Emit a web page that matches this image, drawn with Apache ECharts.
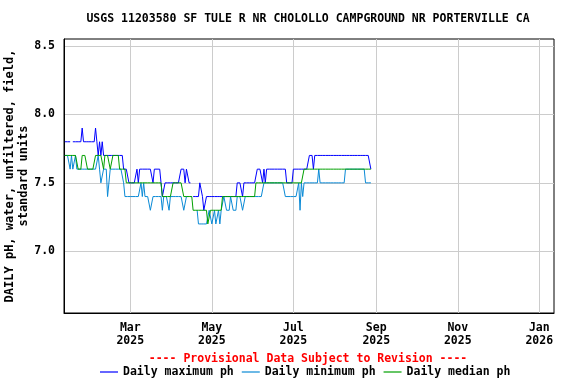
<!DOCTYPE html>
<html><head><meta charset="utf-8">
<script src="https://cdn.jsdelivr.net/npm/echarts@6/dist/echarts.min.js"></script>
<style>html,body{margin:0;padding:0;background:#fff}#c{width:576px;height:384px}</style>
</head><body><div id="c"></div>
<script>
// daily values, first day 2025-01-11
const startDate = Date.UTC(2025, 0, 11);
const maxPh = [
7.8,7.8,7.8,7.8,7.8,null,7.8,7.8,7.8,7.8,
7.8,7.8,7.8,7.9,7.8,7.8,7.8,7.8,7.8,7.8,
7.8,7.8,7.8,7.9,7.8,7.7,7.8,7.7,7.8,7.7,
7.7,7.7,7.7,7.7,7.7,7.7,7.7,7.7,7.7,7.7,
7.7,7.7,7.7,7.7,7.6,7.6,7.6,7.6,7.5,7.5,
7.5,7.5,7.5,7.5,7.6,7.5,7.6,7.6,7.6,7.6,
7.6,7.6,7.6,7.6,7.6,7.6,7.5,7.6,7.6,7.6,
7.6,7.6,7.5,7.4,7.4,7.5,7.5,7.5,7.5,7.5,
7.5,7.5,7.5,7.5,7.5,7.5,7.5,7.6,7.6,7.6,
7.5,7.6,7.6,7.5,7.5,null,7.4,7.4,7.4,7.4,
7.4,7.5,7.5,7.4,7.3,7.3,7.4,7.4,7.4,7.4,
7.4,7.4,7.4,7.4,7.4,7.4,7.4,7.4,7.4,7.4,
7.4,7.4,7.4,7.4,7.4,7.4,7.4,7.4,7.4,7.5,
7.5,7.5,7.5,7.4,7.5,7.5,7.5,7.5,7.5,7.5,
7.5,7.5,7.5,7.5,7.6,7.6,7.6,7.6,7.5,7.6,
7.5,7.6,7.6,7.6,7.6,7.6,7.6,7.6,7.6,7.6,
7.6,7.6,7.6,7.6,7.6,7.6,7.5,7.5,7.5,7.5,
7.5,7.6,7.6,7.6,7.6,7.6,7.6,7.6,7.6,7.6,
7.6,7.6,7.6,7.7,7.7,7.7,7.6,7.7,7.7,7.7,
7.7,7.7,7.7,7.7,7.7,7.7,7.7,7.7,7.7,7.7,
7.7,7.7,7.7,7.7,7.7,7.7,7.7,7.7,7.7,7.7,
7.7,7.7,7.7,7.7,7.7,7.7,7.7,7.7,7.7,7.7,
7.7,7.7,7.7,7.7,7.7,7.7,7.7,7.7,7.7,7.6
];
const minPh = [
7.7,7.7,7.7,7.7,7.6,7.7,7.6,7.6,7.7,7.6,
7.6,7.6,7.6,7.6,7.6,7.6,7.6,7.6,7.6,7.6,
7.6,7.6,7.6,7.6,7.6,7.7,7.6,7.5,7.5,7.6,
7.6,7.6,7.4,7.4,7.6,7.6,7.6,7.6,7.6,7.6,
7.6,7.6,7.6,7.6,7.5,7.4,7.4,7.4,7.4,7.4,
7.4,7.4,7.4,7.4,7.4,7.4,7.4,7.5,7.4,7.5,
7.4,7.4,7.4,7.4,7.3,7.3,7.4,7.4,7.4,7.4,
7.4,7.4,7.4,7.3,7.4,7.4,7.4,7.4,7.3,7.4,
7.4,7.4,7.4,7.4,7.4,7.4,7.4,7.4,7.4,7.3,
7.3,7.4,7.4,null,7.4,7.4,null,null,null,7.3,
7.2,7.2,7.2,7.2,7.2,7.2,7.2,7.2,7.3,7.3,
7.2,7.2,7.3,7.2,7.2,7.3,7.2,7.3,7.3,7.4,
7.4,7.3,7.3,7.3,7.4,7.4,7.3,7.3,7.3,7.4,
7.4,7.4,7.4,7.3,7.3,7.4,7.4,7.4,7.4,7.4,
7.4,7.4,7.4,7.4,7.4,7.4,7.4,7.4,7.4,7.5,
7.5,7.5,7.5,7.5,7.5,7.5,7.5,7.5,7.5,7.5,
7.5,7.5,7.5,7.5,7.5,7.4,7.4,7.4,7.4,7.4,
7.4,7.4,7.4,7.4,7.4,7.5,7.3,7.5,7.4,7.5,
7.5,7.5,7.5,7.5,7.5,7.5,7.5,7.5,7.5,7.5,
7.6,7.5,7.5,7.5,7.5,7.5,7.5,7.5,7.5,7.5,
7.5,7.5,7.5,7.5,7.5,7.5,7.5,7.5,7.5,7.5,
7.6,7.6,7.6,7.6,7.6,7.6,7.6,7.6,7.6,7.6,
7.6,7.6,7.6,7.6,7.6,7.5,7.5,7.5,7.5,7.5
];
const medPh = [
7.7,7.7,7.7,7.7,7.7,7.7,7.7,7.7,7.7,7.7,
7.6,7.6,7.6,7.7,7.7,7.7,7.7,7.6,7.6,7.6,
7.6,7.6,7.6,7.7,7.7,7.7,7.7,7.7,7.7,7.6,
7.7,7.7,7.7,7.7,7.6,7.6,7.7,7.7,7.7,7.7,
7.7,7.6,7.6,7.6,7.6,7.6,7.5,7.5,7.5,7.5,
7.5,7.5,7.5,7.5,7.5,7.5,7.5,7.5,7.5,7.5,
7.5,7.5,7.5,7.5,7.5,7.5,7.5,7.5,7.5,7.5,
7.5,7.5,7.5,7.4,7.4,7.4,7.4,7.4,7.4,7.4,
7.4,7.5,7.5,7.5,7.5,7.5,7.5,7.5,7.5,7.4,
7.4,7.4,7.4,7.4,7.4,7.4,7.3,7.3,7.3,7.3,
7.3,7.3,7.3,7.3,7.3,7.3,7.3,7.2,7.2,7.3,
7.3,7.3,7.3,7.3,7.3,7.3,7.3,7.3,7.4,7.4,
7.4,7.4,7.4,7.4,7.4,7.4,7.4,7.4,7.4,7.4,
7.4,7.4,7.4,7.4,7.4,7.4,7.4,7.4,7.4,7.4,
7.4,7.4,7.4,7.5,7.5,7.5,7.5,7.5,7.5,7.5,
7.5,7.5,7.5,7.5,7.5,7.5,7.5,7.5,7.5,7.5,
7.5,7.5,7.5,7.5,7.5,7.5,7.5,7.5,7.5,7.5,
7.5,7.5,7.5,7.5,7.5,7.5,7.5,7.5,7.5,7.6,
7.6,7.6,7.6,7.6,7.6,7.6,7.6,7.6,7.6,7.6,
7.6,7.6,7.6,7.6,7.6,7.6,7.6,7.6,7.6,7.6,
7.6,7.6,7.6,7.6,7.6,7.6,7.6,7.6,7.6,7.6,
7.6,7.6,7.6,7.6,7.6,7.6,7.6,7.6,7.6,7.6,
7.6,7.6,7.6,7.6,7.6,7.6,7.6,7.6,7.6,7.6
];
const xTickValues = [Date.UTC(2025,2,1), Date.UTC(2025,4,1), Date.UTC(2025,6,1), Date.UTC(2025,8,1), Date.UTC(2025,10,1), Date.UTC(2026,0,1)];
const xTickLabels = ['Mar\n2025','May\n2025','Jul\n2025','Sep\n2025','Nov\n2025','Jan\n2026'];
const yTickValues = [7.0, 7.5, 8.0, 8.5];
const yTickLabels = ['7.0', '7.5', '8.0', '8.5'];
const seriesNames = ['Daily maximum ph', 'Daily minimum ph', 'Daily median ph'];
const titleText = 'USGS 11203580 SF TULE R NR CHOLOLLO CAMPGROUND NR PORTERVILLE CA';
const provisionalText = '---- Provisional Data Subject to Revision ----';
const yName = 'DAILY pH, water, unfiltered, field,\nstandard units';

const DAY = 86400000;
const FONT = 'DejaVu Sans Mono';
const colors = ['#0000ff', '#0a8ad6', '#00a000'];
function toPairs(arr) { return arr.map((v, i) => [startDate + i * DAY, v]); }
const allData = [maxPh, minPh, medPh];

const chart = echarts.init(document.getElementById('c'), null, {renderer: 'canvas'});
const txt = {fontFamily: FONT, fontWeight: 'bold', fontSize: 11.5, color: '#000'};
chart.setOption({
  animation: false,
  backgroundColor: '#fff',
  title: [
    {text: titleText, left: 308, top: 13, textAlign: 'center', padding: 0, textStyle: Object.assign({}, txt)},
    {text: provisionalText, left: 308, top: 353, textAlign: 'center', padding: 0, textStyle: Object.assign({}, txt, {color: '#ff0000'})}
  ],
  legend: {
    left: 100, top: 366, padding: 0, itemWidth: 18, itemHeight: 1.2, itemGap: 8,
    icon: 'rect',
    data: seriesNames,
    textStyle: Object.assign({}, txt)
  },
  grid: {left: 64, right: 22, top: 39, bottom: 71, show: true, borderColor: '#000', borderWidth: 1,
         backgroundColor: 'transparent', containLabel: false, outerBoundsMode: 'none'},
  xAxis: {
    type: 'value',
    min: Date.UTC(2025, 0, 10, 9, 36),
    max: Date.UTC(2026, 0, 12),
    axisLine: {show: true, lineStyle: {color: '#000', width: 1}},
    axisTick: {show: false, customValues: xTickValues},
    axisLabel: {
      customValues: xTickValues,
      formatter: function (v) { const k = xTickValues.indexOf(+v); return k >= 0 ? xTickLabels[k] : ''; },
      fontFamily: FONT, fontWeight: 'bold', fontSize: 11.5, color: '#000', lineHeight: 13.5, margin: 8
    },
    splitLine: {show: true, lineStyle: {color: '#cccccc', width: 1}}
  },
  yAxis: {
    type: 'value', min: 6.55, max: 8.55,
    name: yName, nameLocation: 'middle', nameGap: 33, nameMoveOverlap: false,
    nameTextStyle: {fontFamily: FONT, fontWeight: 'bold', fontSize: 12, color: '#000', lineHeight: 14},
    axisLine: {show: true, lineStyle: {color: '#000', width: 1}},
    axisTick: {show: false, customValues: yTickValues},
    axisLabel: {
      customValues: yTickValues,
      formatter: function (v) { const k = yTickValues.findIndex(t => Math.abs(t - v) < 1e-6); return k >= 0 ? yTickLabels[k] : ''; },
      fontFamily: FONT, fontWeight: 'bold', fontSize: 11.5, color: '#000', margin: 9
    },
    splitLine: {show: true, lineStyle: {color: '#cccccc', width: 1}}
  },
  series: seriesNames.map((n, k) => ({
    type: 'line', name: n, data: toPairs(allData[k]),
    symbol: 'none', showSymbol: false, connectNulls: false,
    lineStyle: {width: 1, color: colors[k]}, itemStyle: {color: colors[k]},
    emphasis: {disabled: true}
  }))
});
</script>
</body></html>
